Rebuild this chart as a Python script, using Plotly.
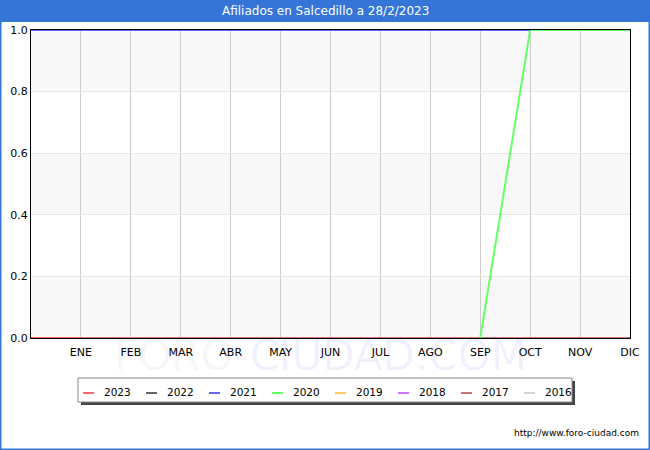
import plotly.graph_objects as go

W, H = 650, 450
L, R, T, B = 31, 20, 30, 112
PW, PH = W - L - R, H - T - B

months = ["ENE", "FEB", "MAR", "ABR", "MAY", "JUN", "JUL", "AGO", "SEP", "OCT", "NOV", "DIC"]
slots = list(range(13))
years = ["2016", "2017", "2018", "2019", "2020", "2021", "2022", "2023"]
colors = {"2023": "#ff6666", "2022": "#666666", "2021": "#6666ff", "2020": "#66ff66",
          "2019": "#ffcc66", "2018": "#cc77ff", "2017": "#cc7777", "2016": "#d3d3d3"}
N = None
v2023 = [0, 0] + [N] * 11
v2022 = [N] * 13
v2021 = [1, 1, 1, 1, 1, 1, 1, 1, 1, 1, 1, N, N]
v2020 = [N, N, N, N, N, N, N, N, N, 0, 1, 1, 1]
v2019 = [N] * 13
v2018 = [N] * 13
v2017 = [0] * 13
v2016 = [N] * 13
values = {"2023": v2023, "2022": v2022, "2021": v2021, "2020": v2020,
          "2019": v2019, "2018": v2018, "2017": v2017, "2016": v2016}


def px(x):
    return (x - L) / PW


def py(y):
    return (H - B - y) / PH


fig = go.Figure()
for yr in years:
    fig.add_trace(go.Scatter(x=slots, y=values[yr], mode="lines", name=yr,
                             line=dict(color=colors[yr], width=2), showlegend=False,
                             connectgaps=False))

shapes = []
# background bands
for y0 in [0.0, 0.4, 0.8]:
    shapes.append(dict(type="rect", xref="x", yref="y", x0=0, x1=12, y0=y0, y1=y0 + 0.2,
                       fillcolor="#f8f8f8", line=dict(width=0), layer="below"))
# title bar
shapes.append(dict(type="rect", xref="paper", yref="paper", x0=px(0), x1=px(W), y0=py(22), y1=py(0),
                   fillcolor="#3575d8", line=dict(width=0), layer="below"))
# outer border
shapes.append(dict(type="rect", xref="paper", yref="paper", x0=px(0.5), x1=px(W - 0.5), y0=py(H - 0.5), y1=py(0.5),
                   fillcolor="rgba(0,0,0,0)", line=dict(color="#3575d8", width=2)))
# legend shadow and box
shapes.append(dict(type="rect", xref="paper", yref="paper", x0=px(81), x1=px(575), y0=py(405), y1=py(381),
                   fillcolor="#444444", line=dict(width=0)))
shapes.append(dict(type="rect", xref="paper", yref="paper", x0=px(78), x1=px(572), y0=py(402), y1=py(378),
                   fillcolor="white", line=dict(color="#888888", width=1)))

annotations = []
# watermark first so other texts lie on top
annotations.append(dict(text="<span style='color:rgba(0,0,0,0.05)'>FORO-</span><span style='color:rgba(40,40,240,0.07)'>CIUDAD.COM</span>",
                        xref="paper", yref="paper", x=px(320), y=py(355), xanchor="center", yanchor="middle",
                        showarrow=False, font=dict(size=42, family="DejaVu Sans")))
legend_order = ["2023", "2022", "2021", "2020", "2019", "2018", "2017", "2016"]
for i, yr in enumerate(legend_order):
    x0 = 83 + 63 * i
    shapes.append(dict(type="line", xref="paper", yref="paper", x0=px(x0), x1=px(x0 + 11),
                       y0=py(393), y1=py(393), line=dict(color=colors[yr], width=2)))
    annotations.append(dict(text=yr, xref="paper", yref="paper", x=px(x0 + 19), y=py(392),
                            xanchor="left", yanchor="middle", showarrow=False,
                            font=dict(size=10.5, color="black", family="DejaVu Sans")))

annotations.append(dict(text="Afiliados en Salcedillo a 28/2/2023", xref="paper", yref="paper",
                        x=px(325), y=py(11), xanchor="center", yanchor="middle", showarrow=False,
                        font=dict(size=12, color="white", family="DejaVu Sans")))
annotations.append(dict(text="http://www.foro-ciudad.com", xref="paper", yref="paper",
                        x=px(641), y=py(433), xanchor="right", yanchor="middle", showarrow=False,
                        font=dict(size=9, color="black", family="DejaVu Sans")))

fig.update_layout(
    width=W, height=H, margin=dict(l=L, r=R, t=T, b=B, autoexpand=False),
    paper_bgcolor="white", plot_bgcolor="white",
    shapes=shapes, annotations=annotations, showlegend=False,
    xaxis=dict(range=[0, 12], tickvals=list(range(1, 13)), ticktext=months, showgrid=True,
               gridcolor="#cccccc", gridwidth=1, zeroline=False, showline=True, linecolor="black",
               linewidth=1, mirror=True, ticks="", automargin=False, ticklabelstandoff=4,
               tickfont=dict(size=11, family="DejaVu Sans", color="black"), fixedrange=True),
    yaxis=dict(range=[0, 1], tickvals=[0, 0.2, 0.4, 0.6, 0.8, 1.0], tickformat=".1f", showgrid=True,
               gridcolor="#e8e8e8", zeroline=False, showline=True, linecolor="black", linewidth=1,
               mirror=True, ticks="", automargin=False,
               tickfont=dict(size=11, family="DejaVu Sans", color="black"), fixedrange=True),
)
fig.write_html("out.html", config={"displayModeBar": False},
               post_script="document.body.style.margin='0';document.body.style.padding='0';")
